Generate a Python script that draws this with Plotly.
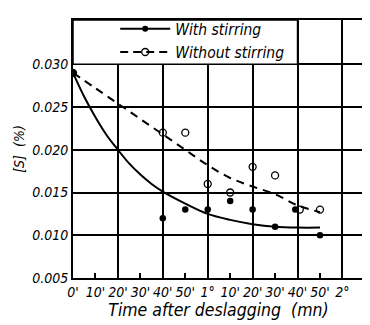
import plotly.graph_objects as go

# ---- data ----
minutes_tick = [0, 10, 20, 30, 40, 50, 60, 70, 80, 90, 100, 110, 120]
tick_text = ["0'", "10'", "20'", "30'", "40'", "50'", "1°", "10'", "20'", "30'", "40'", "50'", "2°"]

y_ticks = [0.005, 0.010, 0.015, 0.020, 0.025, 0.030]
y_text = ["0.005", "0.010", "0.015", "0.020", "0.025", "0.030"]

with_t = [0, 40, 50, 60, 70, 80, 90, 99, 110]
with_s = [0.029, 0.012, 0.013, 0.013, 0.014, 0.013, 0.011, 0.013, 0.010]

without_t = [0, 40, 50, 60, 70, 80, 90, 101, 110]
without_s = [0.029, 0.022, 0.022, 0.016, 0.015, 0.018, 0.017, 0.013, 0.013]

curve_with_t = [0, 5, 10, 15, 20, 25, 30, 35, 40, 50, 60, 70, 80, 90, 100, 110]
curve_with_s = [0.029, 0.0262, 0.0238, 0.0217, 0.0200, 0.0184, 0.0171, 0.0160, 0.0151, 0.0137, 0.0125, 0.0118, 0.0113, 0.0110, 0.0109, 0.0109]

curve_without_t = [0, 10, 20, 30, 40, 50, 60, 70, 80, 90, 100, 110]
curve_without_s = [0.029, 0.0272, 0.0254, 0.0236, 0.0218, 0.0200, 0.0182, 0.0167, 0.0157, 0.0148, 0.0135, 0.0127]

FONT = "Liberation Sans Narrow, DejaVu Sans Condensed, Arial Narrow, sans-serif"

fig = go.Figure()

fig.add_trace(go.Scatter(x=curve_with_t, y=curve_with_s, mode="lines",
                         line=dict(color="black", width=2, shape="spline"),
                         showlegend=False, hoverinfo="skip"))
fig.add_trace(go.Scatter(x=curve_without_t, y=curve_without_s, mode="lines",
                         line=dict(color="black", width=2, dash="8px,6px", shape="spline"),
                         showlegend=False, hoverinfo="skip"))
fig.add_trace(go.Scatter(x=with_t, y=with_s, mode="markers",
                         marker=dict(symbol="circle", size=6.5, color="black"),
                         showlegend=False))
fig.add_trace(go.Scatter(x=without_t, y=without_s, mode="markers",
                         marker=dict(symbol="circle-open", size=7, color="black", line=dict(width=1.3)),
                         showlegend=False))

# legend entries
fig.add_trace(go.Scatter(x=[None], y=[None], mode="lines+markers", name="With stirring",
                         line=dict(color="black", width=2),
                         marker=dict(symbol="circle", size=6, color="black")))
fig.add_trace(go.Scatter(x=[None], y=[None], mode="lines+markers", name="Without stirring",
                         line=dict(color="black", width=2, dash="8px,5px"),
                         marker=dict(symbol="circle-open", size=7, color="black", line=dict(width=1.3))))

# white legend box covering the top-left grid area
fig.add_shape(type="rect", xref="x", yref="y", x0=0, x1=100, y0=0.030, y1=0.03518,
              fillcolor="white", line=dict(color="black", width=1.5), layer="between")

# page has an 8px body margin: figure is shifted by 8px, so size/margins compensate
fig.update_layout(
    width=362, height=317,
    margin=dict(l=65, r=4, t=8, b=47),
    paper_bgcolor="white", plot_bgcolor="white",
    font=dict(family=FONT, size=13, color="black", style="italic"),
    showlegend=True,
    legend=dict(x=0.145, y=1.03, xanchor="left", yanchor="top",
                bgcolor="rgba(0,0,0,0)", itemwidth=50, tracegroupgap=0,
                font=dict(family=FONT, size=15.5, style="italic")),
    xaxis=dict(range=[0, 129.6], tickvals=minutes_tick, ticktext=tick_text,
               ticks="inside", ticklen=5, tickwidth=1.5, tickcolor="black",
               showgrid=False, zeroline=False,
               showline=True, linecolor="black", linewidth=2, mirror=True,
               minor=dict(tick0=0, dtick=20, showgrid=True, gridcolor="black", gridwidth=1.5, ticklen=0),
               tickfont=dict(size=14, style="italic"),
               title=dict(text="Time after deslagging  (mn)", standoff=3,
                          font=dict(size=17.5, style="italic"))),
    yaxis=dict(range=[0.005, 0.03518], tickvals=y_ticks, ticktext=y_text,
               ticks="", showgrid=True, gridcolor="black", gridwidth=1.5,
               zeroline=False, showline=True, linecolor="black", linewidth=2, mirror=True,
               tickfont=dict(size=14, style="italic"),
               title=dict(text="[S]  (%)", standoff=4, font=dict(size=14, style="italic"))),
)

fig.write_html("out.html")
